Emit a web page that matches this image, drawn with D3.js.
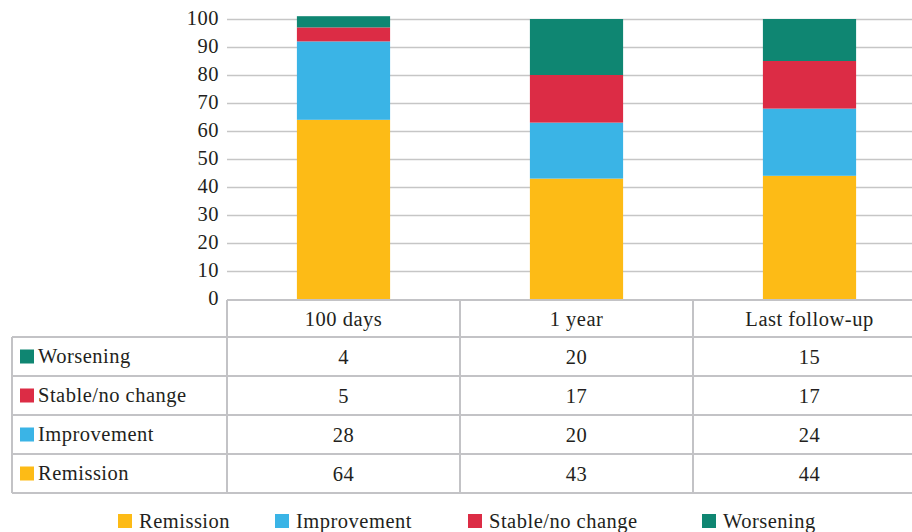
<!DOCTYPE html>
<html>
<head>
<meta charset="utf-8">
<script src="https://cdn.jsdelivr.net/npm/d3@7"></script>
</head>
<body style="margin:0">
<script>
// data
var categories = ["100 days", "1 year", "Last follow-up"];
var seriesNames = ["Remission", "Improvement", "Stable/no change", "Worsening"];
var remission = [64, 43, 44];
var improvement = [28, 20, 24];
var stable = [5, 17, 17];
var worsening = [4, 20, 15];
var yTicks = [0, 10, 20, 30, 40, 50, 60, 70, 80, 90, 100];

var colors = ["#fdbb16", "#3ab4e6", "#dc2c45", "#0f8672"];

var w = 912, h = 532;
var rows = categories.map(function(c, i) {
  return { cat: c, "Remission": remission[i], "Improvement": improvement[i],
           "Stable/no change": stable[i], "Worsening": worsening[i] };
});

var svg = d3.select("body").append("svg").attr("width", w).attr("height", h);

var x = d3.scaleBand().domain(categories).range([227, 926]).paddingInner(0).paddingOuter(0);
var y = d3.scaleLinear().domain([0, 100]).range([299, 19]);
var color = d3.scaleOrdinal().domain(seriesNames).range(colors);

function label(sel) {
  return sel.attr("font-family", "Liberation Serif").attr("font-size", "20.5px")
    .style("font-family", "'Liberation Serif'")
    .attr("letter-spacing", "0.5px").attr("fill", "#231f20");
}

// gridlines
svg.append("g").selectAll("line").data(yTicks.slice(1)).enter().append("line")
  .attr("x1", 227).attr("x2", w)
  .attr("y1", function(d) { return Math.round(y(d)) + 0.5; })
  .attr("y2", function(d) { return Math.round(y(d)) + 0.5; })
  .attr("stroke", "#c6c6c6").attr("stroke-width", 1.5);

// y tick labels
svg.append("g").selectAll("text").data(yTicks).enter().append("text")
  .attr("x", 219).attr("y", function(d) { return y(d) + 6; })
  .attr("text-anchor", "end").call(label)
  .text(function(d) { return d; });

// bars
var stack = d3.stack().keys(seriesNames)(rows);
var bw = x.bandwidth() * 0.4;
svg.append("g").selectAll("g").data(stack).enter().append("g")
  .attr("fill", function(d) { return color(d.key); })
  .selectAll("rect").data(function(d) { return d; }).enter().append("rect")
  .attr("x", function(d) { return x(d.data.cat) + (x.bandwidth() - bw) / 2; })
  .attr("width", bw)
  .attr("y", function(d) { return y(d[1]); })
  .attr("height", function(d) { return y(d[0]) - y(d[1]); });

// data table
var tableRows = seriesNames.slice().reverse();
var tableVals = { "Remission": remission, "Improvement": improvement,
                  "Stable/no change": stable, "Worsening": worsening };
var rowTop = 300, headH = 37, rowH = 39, leftX = 12;
var grid = svg.append("g").attr("stroke", "#c3c3c6").attr("stroke-width", 2).attr("fill", "none");
var lines = [];
lines.push([227, rowTop, w, rowTop]);
var bottom = rowTop + headH + rowH * tableRows.length;
lines.push([227, rowTop, 227, bottom]);
categories.forEach(function(c, i) {
  if (i > 0) lines.push([x(c), rowTop, x(c), bottom]);
});
lines.push([leftX, rowTop + headH, leftX, bottom]);
for (var r = 0; r <= tableRows.length; r++) {
  var yy = rowTop + headH + r * rowH;
  lines.push([leftX, yy, w, yy]);
}
grid.selectAll("line").data(lines).enter().append("line")
  .attr("x1", function(d) { return d[0]; }).attr("y1", function(d) { return d[1]; })
  .attr("x2", function(d) { return d[2]; }).attr("y2", function(d) { return d[3]; });

// header labels
svg.append("g").selectAll("text").data(categories).enter().append("text")
  .attr("x", function(d) { return x(d) + x.bandwidth() / 2; })
  .attr("y", rowTop + headH / 2 + 7)
  .attr("text-anchor", "middle").call(label)
  .text(function(d) { return d; });

// row labels + values
var tr = svg.append("g").selectAll("g").data(tableRows).enter().append("g")
  .attr("transform", function(d, i) { return "translate(0," + (rowTop + headH + i * rowH) + ")"; });
tr.append("rect").attr("x", 20).attr("y", rowH / 2 - 7).attr("width", 14).attr("height", 14)
  .attr("fill", function(d) { return color(d); });
tr.append("text").attr("x", 38).attr("y", rowH / 2 + 6).call(label)
  .text(function(d) { return d; });
tr.selectAll("text.v").data(function(d) { return tableVals[d]; }).enter().append("text")
  .attr("class", "v")
  .attr("x", function(d, i) { return x(categories[i]) + x.bandwidth() / 2; })
  .attr("y", rowH / 2 + 7).attr("text-anchor", "middle").call(label)
  .text(function(d) { return d; });

// legend
var legendX = [118, 275, 468, 702];
var lg = svg.append("g").selectAll("g").data(seriesNames).enter().append("g")
  .attr("transform", function(d, i) { return "translate(" + legendX[i] + ",521)"; });
lg.append("rect").attr("x", 0).attr("y", -7).attr("width", 14).attr("height", 14)
  .attr("fill", function(d) { return color(d); });
lg.append("text").attr("x", 21).attr("y", 7).call(label)
  .text(function(d) { return d; });
</script>
</body>
</html>
